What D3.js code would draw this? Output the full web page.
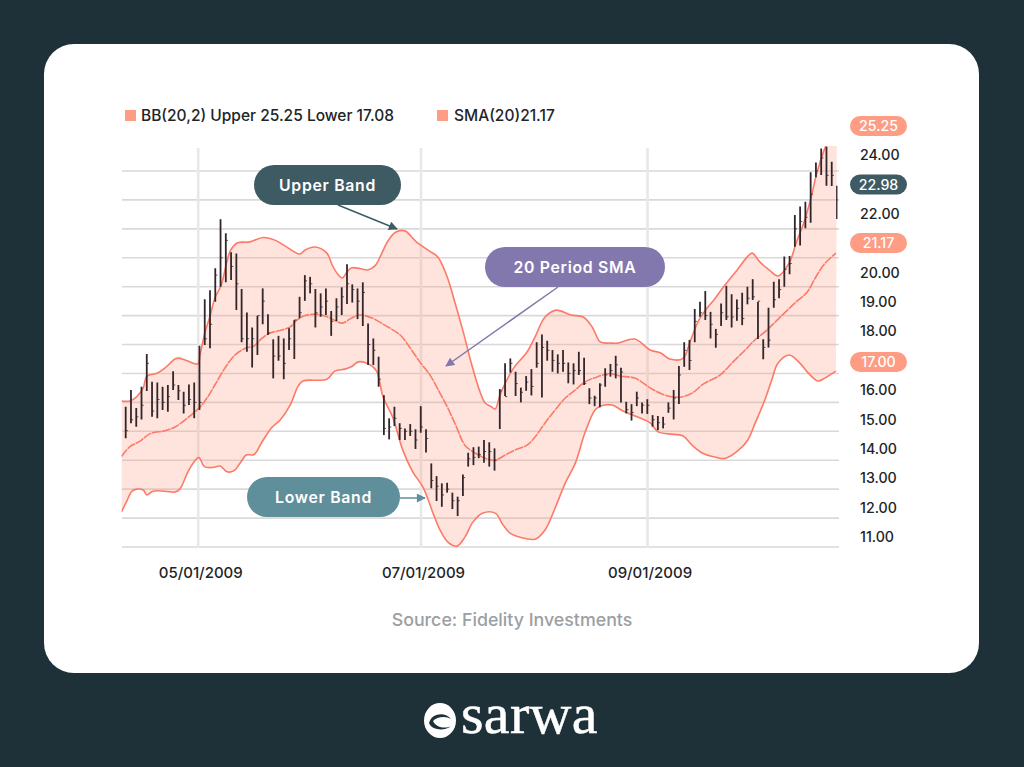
<!DOCTYPE html>
<html><head><meta charset="utf-8">
<style>html,body{margin:0;padding:0;background:#1f3138;overflow:hidden}svg{display:block}text{font-family:Inter,Lato,"Noto Sans",sans-serif}</style>
<script src="https://cdn.jsdelivr.net/npm/d3@7"></script>
</head><body><svg id="c" width="1024" height="767"></svg>
<script>
// ---- data ----
const highs=[15.85,16.43,15.81,16.54,17.67,16.71,16.69,16.54,16.60,17.08,16.60,16.37,16.62,16.69,17.96,19.57,19.88,20.64,22.33,21.85,21.19,21.15,19.92,19.11,18.59,18.99,19.94,19.05,18.18,18.30,18.21,18.56,18.85,19.65,20.40,20.34,19.92,19.77,19.94,19.16,19.60,19.98,20.78,20.08,19.94,20.15,18.73,18.21,17.58,16.25,15.45,15.85,15.28,15.10,15.25,15.07,15.87,15.07,13.89,13.45,13.20,13.22,12.88,12.74,13.51,14.26,14.45,14.47,14.70,14.62,14.41,16.46,17.35,17.52,17.06,16.51,16.91,17.15,18.08,18.35,18.13,17.81,17.66,17.81,17.38,17.35,17.75,17.54,16.49,16.23,16.66,17.18,17.33,17.61,17.20,16.02,15.94,16.37,16.00,16.11,15.56,15.53,15.50,16.00,16.43,17.26,18.08,18.16,19.23,19.48,19.85,19.13,18.54,19.42,20.03,19.74,19.56,19.79,20.00,20.26,19.48,18.18,19.27,20.17,20.26,21.04,21.06,22.48,22.77,22.94,23.96,24.29,24.78,24.84,24.32,23.49];
const lows=[14.76,15.28,15.16,15.41,16.39,15.50,15.45,15.74,15.68,16.43,16.08,15.62,15.91,15.45,15.74,17.98,17.87,19.48,20.00,20.15,20.23,19.19,18.08,17.75,17.21,17.64,18.70,18.33,16.83,17.44,16.80,17.81,17.50,18.91,19.51,19.77,18.59,18.96,19.02,18.30,18.81,19.02,19.40,19.45,18.88,18.64,17.29,17.29,16.54,14.87,14.72,15.18,14.70,14.70,14.84,14.39,14.95,14.27,13.03,12.59,12.39,12.88,12.31,12.07,12.76,13.78,13.83,14.07,13.91,13.78,13.64,15.08,16.22,17.03,16.22,16.00,16.40,16.24,17.20,16.17,17.44,17.06,17.00,17.06,16.66,16.62,16.95,16.60,15.94,15.87,15.83,16.54,16.89,16.83,16.00,15.62,15.37,15.87,15.62,15.60,15.16,15.04,15.10,15.64,15.41,15.94,17.23,17.12,18.08,18.96,18.85,18.21,17.89,18.64,18.85,18.59,18.82,18.67,19.39,19.54,18.19,17.49,17.90,19.27,19.60,20.00,20.43,21.38,21.42,22.02,22.21,23.78,23.86,23.49,23.48,22.34];
const closes=[15.02,15.4,15.5,15.9,17.35,15.7,16.1,16.0,16.2,16.6,16.4,15.9,16.1,16.0,16.0,18.2,18.7,20.4,21.0,21.6,20.7,20.1,18.2,18.2,18.2,19.0,19.5,18.4,17.6,17.6,17.35,18.2,18.85,19.1,20.2,20.1,19.1,19.3,19.5,18.8,19.3,19.65,20.1,19.9,19.5,19.8,18.0,17.8,16.8,15.1,15.15,15.45,15.1,15.0,15.0,14.7,15.15,14.75,13.3,13.1,12.8,13.0,12.6,12.6,13.4,14.05,14.1,14.2,14.3,14.3,14.0,16.4,16.2,17.35,16.65,16.35,16.7,16.55,17.35,17.9,17.8,17.45,17.35,17.35,17.0,17.1,17.1,16.65,16.15,16.15,16.6,16.95,17.1,17.3,17.05,15.75,15.65,16.15,15.9,15.9,15.4,15.3,15.25,15.8,16.15,16.95,17.8,17.45,18.8,19.1,19.0,18.7,18.35,19.1,18.96,18.95,19.25,18.9,19.6,19.65,19.5,17.9,18.15,19.55,19.9,20.6,20.8,22.0,22.25,22.4,23.2,24.0,24.45,23.85,23.85,23.0];

const upperAt=[-0.8,0.8,2.1,3.3,4.0,5.9,7.4,9.3,10.0,11.7,13.6,14.0,14.9,15.9,16.8,18.0,19.1,19.8,21.0,23.4,25.9,28.1,30.0,32.8,33.8,35.7,37.9,38.9,40.0,40.8,41.7,42.5,44.1,45.6,47.0,48.1,49.4,50.9,52.6,54.7,57.3,58.8,60.5,62.0,63.7,65.1,66.7,67.7,68.8,69.6,70.5,71.6,73.2,75.6,77.1,79.0,81.1,83.9,86.2,87.9,89.4,91.2,92.7,95.9,98.8,100.8,102.5,105.0,106.3,108.0,109.7,110.8,112.9,115.2,117.1,118.0,119.5,121.2,122.9,125.0,126.3,127.8,129.1,130.2,131.6,132.1,133.0,134.0];
const upperBand=[16.05,16.05,16.2,16.5,16.91,17.01,17.19,17.5,17.53,17.43,17.33,17.64,18.4,18.99,19.61,20.06,20.89,21.27,21.51,21.55,21.7,21.61,21.41,21.13,21.27,21.37,21.16,20.75,20.42,20.3,20.51,20.65,20.63,20.58,20.73,21.1,21.58,21.89,21.93,21.56,21.22,21.03,20.37,19.47,18.36,17.36,16.39,15.98,15.86,15.77,16.25,16.7,17.22,17.74,18.26,18.95,19.19,19.02,18.95,18.6,18.09,18.05,18.05,18.19,17.81,17.71,17.5,17.52,18.09,18.85,19.3,19.54,20.06,20.58,21.03,21.16,20.85,20.58,20.37,20.82,21.51,22.24,23.07,23.93,24.73,24.95,25.4,25.83];

const smaAt=[-0.8,0.8,2.7,4.6,7.4,9.3,12.1,14.0,15.5,16.8,18.7,20.6,22.9,24.0,25.7,27.2,29.4,31.0,32.3,33.8,35.7,37.5,39.4,40.8,42.6,44.1,46.4,48.8,51.7,53.6,55.4,57.3,59.2,60.7,62.4,63.9,65.8,68.1,69.6,71.5,73.3,75.6,77.1,79.0,80.9,82.8,84.7,86.5,88.8,91.2,93.1,95.9,98.8,101.6,104.4,106.7,108.8,112.0,114.2,116.7,118.6,120.8,123.3,126.1,128.4,129.9,131.7,133.8];
const smaLine=[14.13,14.47,14.66,14.92,15.02,15.15,15.53,15.84,16.2,16.6,17.19,17.64,17.9,17.93,18.22,18.4,18.5,18.61,18.85,19.0,19.05,18.99,18.83,18.74,18.92,19.02,18.92,18.67,18.33,17.88,17.4,16.95,16.32,15.8,15.11,14.52,14.25,14.04,14.0,14.18,14.35,14.52,14.8,15.29,15.74,16.15,16.43,16.7,16.88,17.0,16.91,16.84,16.5,16.25,16.18,16.32,16.63,16.95,17.36,17.81,18.17,18.5,18.95,19.44,19.82,20.3,20.8,21.16];

const lowerAt=[-0.8,0.2,1.2,2.1,3.3,4.0,5.1,7.4,9.3,10.2,11.7,12.9,13.8,14.8,16.4,17.8,19.1,20.4,21.7,22.7,24.2,25.7,27.6,29.1,31.0,32.5,33.4,37.9,39.4,41.3,42.6,43.8,45.6,47.2,48.5,50.3,52.2,54.1,56.0,57.9,59.2,60.7,62.4,63.9,65.4,67.2,69.6,71.1,72.4,74.3,77.1,79.0,80.9,82.8,84.7,86.5,88.4,89.4,91.6,93.7,96.9,98.8,100.3,102.2,105.0,106.7,108.8,111.0,112.9,115.3,117.2,118.6,120.4,121.7,122.9,125.0,127.0,128.6,130.4,131.7,133.8];
const lowerBand=[12.21,12.59,12.93,13.0,12.97,12.8,12.93,12.93,12.9,13.0,13.59,13.95,14.09,13.78,13.75,13.8,13.6,13.64,13.94,14.18,14.2,14.64,15.15,15.39,15.91,16.57,16.74,16.8,17.08,17.15,17.24,17.4,17.34,17.1,16.18,15.49,14.35,13.59,13.07,12.17,11.59,11.17,11.03,11.34,11.86,12.17,12.17,11.76,11.48,11.34,11.27,11.59,12.35,13.21,13.9,14.94,15.74,15.87,15.91,15.7,15.46,15.29,14.98,14.91,14.84,14.52,14.23,14.11,14.06,14.32,14.7,15.29,16.08,16.77,17.36,17.64,17.36,17.01,16.74,16.84,17.08];

const gridValues=[11,12,13,14,15,16,17,18,19,20,21,22,23,24];
const priceTicks=[11,12,13,14,15,16,18,19,20,22,24];
const dateTicks=["2009-05-01","2009-07-01","2009-09-01"];
const pillLabels=["25.25","22.98","21.17","17.00"];
const legendLabels=["BB(20,2) Upper 25.25 Lower 17.08","SMA(20)21.17"];
const calloutLabels=["Upper Band","Lower Band","20 Period SMA"];

// ---- layout ----
const C={bg:"#1f3138",band:"#fc7a68",fill:"rgba(254,150,130,0.27)",coral:"#fe9c84",teal:"#3e5b63",blue:"#5e8f9b",purple:"#8378ad",grid:"#d9d9d9",bar:"#33262a",ink:"#1d2528"};
const FONT="Inter,Lato,sans-serif";
const svg=d3.select("#c");
const y=d3.scaleLinear().domain([11,24]).range([547,171]);
const yLabel=d3.scaleLinear().domain([11,24]).range([537,155]);
const xBar=d3.scaleLinear().domain([0,135]).range([125.7,837]);
const xBand=d3.scaleLinear().domain([0,134]).range([125.7,837]);
const xDate=d3.scaleTime().domain([new Date(2009,3,10),new Date(2009,9,23)]).range([122,838]);
const parse=d3.timeParse("%Y-%m-%d");

svg.append("rect").attr("width",1024).attr("height",767).attr("fill",C.bg);
svg.append("rect").attr("x",44).attr("y",44).attr("width",935).attr("height",629).attr("rx",30).attr("fill","#fff");

const defs=svg.append("defs");
defs.append("clipPath").attr("id","plot").append("rect").attr("x",121.5).attr("y",146).attr("width",716).attr("height",410);
[["a1",C.teal],["a2",C.blue],["a3",C.purple]].forEach(([id,col])=>{
  defs.append("marker").attr("id",id).attr("viewBox","0 0 10 10").attr("refX",9).attr("refY",5)
    .attr("markerWidth",11).attr("markerHeight",9).attr("markerUnits","userSpaceOnUse").attr("orient","auto")
    .append("path").attr("d","M0,0L10,5L0,10Z").attr("fill",col);
});

// grid
svg.append("g").selectAll("line").data(gridValues).join("line")
  .attr("x1",122).attr("x2",839).attr("y1",d=>y(d)).attr("y2",d=>y(d)).attr("stroke",C.grid).attr("stroke-width",1.6);
svg.append("g").selectAll("line").data(dateTicks).join("line")
  .attr("x1",d=>xDate(parse(d))-0.5).attr("x2",d=>xDate(parse(d))-0.5).attr("y1",148).attr("y2",548).attr("stroke","#e8e8e8").attr("stroke-width",2.6);

// bands
const plot=svg.append("g").attr("clip-path","url(#plot)");
const pts=(at,v)=>at.map((a,i)=>[a,v[i]]);
const line=d3.line().x(d=>xBand(d[0])).y(d=>y(d[1])).curve(d3.curveCatmullRom.alpha(0.5));
const up=pts(upperAt,upperBand),lo=pts(lowerAt,lowerBand),sm=pts(smaAt,smaLine);
const rev=line(lo.slice().reverse());
plot.append("path").attr("d",line(up)+"L"+rev.slice(1)+"Z").attr("fill",C.fill);
[up,lo].forEach(p=>plot.append("path").attr("d",line(p)).attr("fill","none").attr("stroke",C.band).attr("stroke-width",1.6));
plot.append("path").attr("d",line(sm)).attr("fill","none").attr("stroke",C.band).attr("stroke-width",1.6).attr("stroke-dasharray","9 0.8");

// OHLC-style bars
const bars=plot.append("g").selectAll("g").data(highs).join("g");
bars.append("line").attr("x1",(d,i)=>xBar(i)).attr("x2",(d,i)=>xBar(i)).attr("y1",(d,i)=>y(highs[i])).attr("y2",(d,i)=>y(lows[i])).attr("stroke",C.bar).attr("stroke-width",1.8);
bars.append("line").attr("x1",(d,i)=>xBar(i)).attr("x2",(d,i)=>xBar(i)+2.2).attr("y1",(d,i)=>y(closes[i])).attr("y2",(d,i)=>y(closes[i])).attr("stroke",C.bar).attr("stroke-width",0.8);

// axes
const yAxis=d3.axisRight(yLabel).tickValues(priceTicks).tickFormat(d3.format(".2f")).tickSize(0).tickPadding(0);
const yg=svg.append("g").attr("transform","translate(860,0)").call(yAxis);
yg.select(".domain").remove();
yg.selectAll("text").attr("fill",C.ink).attr("font-size",14.2).attr("font-weight",500).style("font-family",FONT);
const xAxis=d3.axisBottom(xDate).tickValues(dateTicks.map(parse)).tickFormat(d3.timeFormat("%m/%d/%Y")).tickSize(0).tickPadding(0);
const xg=svg.append("g").attr("transform","translate(1.5,567)").call(xAxis);
xg.select(".domain").remove();
xg.selectAll("text").attr("fill",C.ink).attr("font-size",15).attr("font-weight",500).style("font-family",FONT);

// value pills
const pillY=[126,184.5,243,362],pillFill=[C.coral,C.teal,C.coral,C.coral];
pillLabels.forEach((t,i)=>{
  svg.append("rect").attr("x",850).attr("y",pillY[i]-10).attr("width",57).attr("height",20).attr("rx",10).attr("fill",pillFill[i]);
  svg.append("text").attr("x",878.5).attr("y",pillY[i]).attr("dy",".36em").attr("text-anchor","middle").attr("fill","#fff").attr("font-size",14.2).attr("font-weight",500).text(t);
});

// legend
[[125,141],[437,454]].forEach(([sx,tx],i)=>{
  svg.append("rect").attr("x",sx).attr("y",110).attr("width",11).attr("height",11).attr("fill",C.coral);
  svg.append("text").attr("x",tx).attr("y",121).attr("fill",C.ink).attr("font-size",15.5).attr("font-weight",500).text(legendLabels[i]);
});

// callouts
const callouts=[
 {x:254,y:165,w:147,fill:C.teal,ax1:338,ay1:205,ax2:397,ay2:229,m:"a1"},
 {x:247,y:477,w:153,fill:C.blue,ax1:400,ay1:498,ax2:425,ay2:498,m:"a2"},
 {x:485,y:247,w:180,fill:C.purple,ax1:558,ay1:287,ax2:446,ay2:366,m:"a3"}];
callouts.forEach((c,i)=>{
  svg.append("line").attr("x1",c.ax1).attr("y1",c.ay1).attr("x2",c.ax2).attr("y2",c.ay2).attr("stroke",c.fill).attr("stroke-width",1.5).attr("marker-end",`url(#${c.m})`);
  svg.append("rect").attr("x",c.x).attr("y",c.y).attr("width",c.w).attr("height",40).attr("rx",20).attr("fill",c.fill);
  svg.append("text").attr("x",c.x+c.w/2).attr("y",c.y+20).attr("dy",".36em").attr("text-anchor","middle").attr("fill","#fff").attr("font-size",15.8).attr("font-weight",600).attr("letter-spacing",0.7).text(calloutLabels[i]);
});

// source
svg.append("text").attr("x",512).attr("y",626).attr("text-anchor","middle").attr("fill","#9aa0a3").attr("font-size",17.8).attr("font-weight",500).text("Source: Fidelity Investments");

// logo
const logo=svg.append("g");
logo.append("ellipse").attr("cx",440).attr("cy",720.5).attr("rx",16).attr("ry",17.5).attr("fill","#fff");
logo.append("path").attr("d","M429,723C432,712 446,712 451,719C447,716 437,716 433,721C436,728 446,729 451,726C446,731 432,731 429,723Z").attr("fill",C.bg);
logo.append("text").attr("x",461).attr("y",733).attr("fill","#fff").attr("stroke","#fff").attr("stroke-width",0.5).attr("font-size",58).attr("font-weight",400).attr("letter-spacing",0.3).style("font-family",'"Liberation Serif",serif').text("sarwa");
</script></body></html>
